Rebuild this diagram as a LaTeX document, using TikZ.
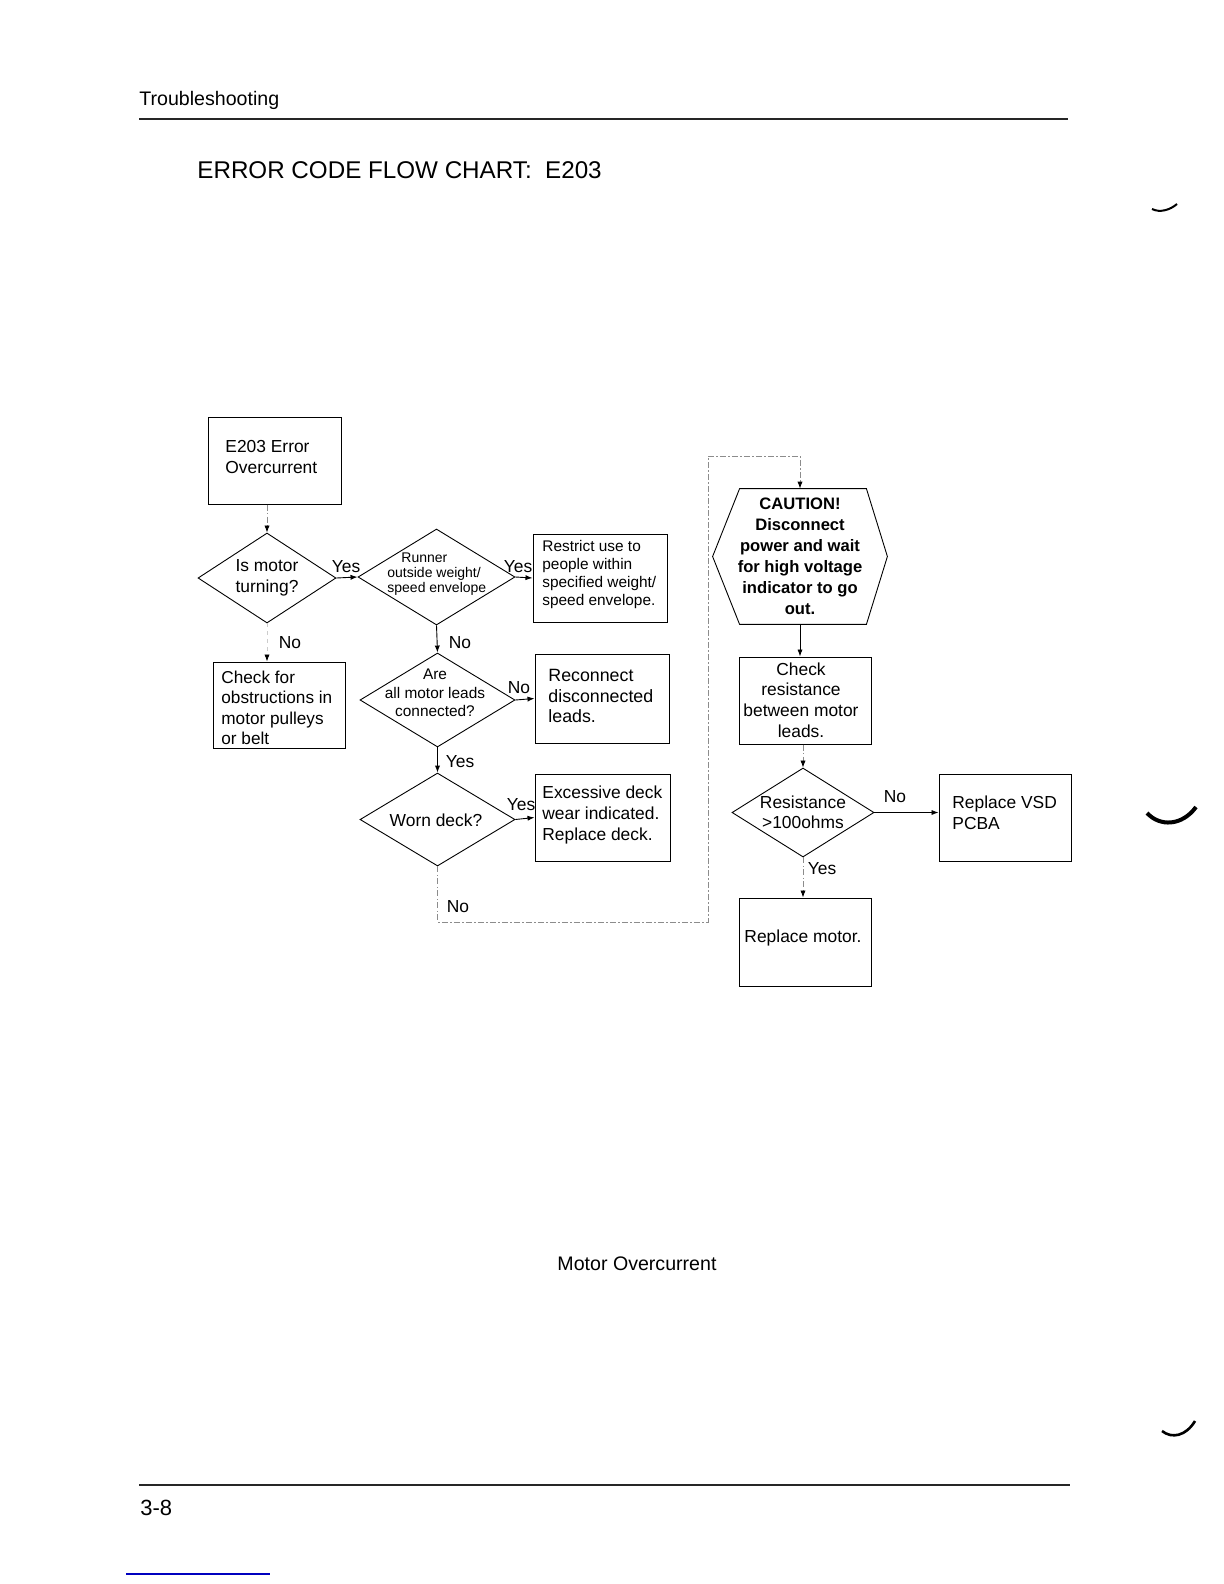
\documentclass[tikz,border=0pt]{standalone}
\usepackage{fontspec}
\setmainfont{Liberation Sans}
\usetikzlibrary{arrows.meta,shapes.geometric,calc}
\begin{document}
\begin{tikzpicture}[x=0.5pt,y=-0.5pt,
  box/.style={draw, line width=0.5pt, inner sep=0pt},
  dia/.style={diamond, draw, line width=0.45pt, inner sep=0pt},
  txt/.style={font=\fontsize{8.7}{10.3}\selectfont, inner sep=0pt, align=left},
  lbl/.style={font=\fontsize{8.7}{10}\selectfont, inner sep=0pt},
  arr/.style={-{Latex[length=3.5pt,width=2.6pt]}, line width=0.45pt},
  faint/.style={-{Latex[length=3.5pt,width=2.6pt,color=black]}, line width=0.4pt, draw=black!45, dash pattern=on 3pt off 1.2pt on 0.6pt off 1.2pt},
  ghost/.style={-{Latex[length=3.5pt,width=2.6pt,color=black]}, line width=0.4pt, draw=black!20, dash pattern=on 2pt off 2pt}]
\useasboundingbox[fill=white] (0,0) rectangle (1224,1584);

% header / footer
\node[anchor=west, inner sep=0pt, font=\fontsize{9.8}{12}\selectfont] (hdr) at (139,100) {Troubleshooting};
\draw[line width=0.6pt, black!85] (139,119) -- (1068,119);
\node[anchor=west, inner sep=0pt, font=\fontsize{12.1}{14}\selectfont] (title) at (197,170) {ERROR CODE FLOW CHART:\ \ E203};
\node[inner sep=0pt, font=\fontsize{9.8}{12}\selectfont] (cap) at (637,1264) {Motor Overcurrent};
\draw[line width=0.6pt, black!85] (139,1485) -- (1070,1485);
\node[anchor=west, inner sep=0pt, font=\fontsize{11}{13}\selectfont] (pg) at (140,1508) {3-8};
\draw[blue!75!black, line width=1pt] (126,1574) -- (270,1574);

% margin marks
\draw[line width=1pt] (1152,209) .. controls (1160,213) and (1170,210) .. (1177,204);
\draw[line width=2pt] (1147,813) .. controls (1160,827) and (1182,826) .. (1196,807);
\draw[line width=1.3pt] (1162,1431) .. controls (1172,1439) and (1186,1436) .. (1195,1421);

% left column
\node[box, minimum width=66.5pt, minimum height=43.5pt] (e203) at (274.5,460.5) {};
\node[txt, anchor=west] (e203t) at (225,457) {E203 Error\\Overcurrent};

\node[dia, minimum width=69pt, minimum height=45pt] (d1) at (267,578) {};
\node[txt, align=center] (d1t) at (267,578) {Is motor\\turning?};

\node[dia, minimum width=78.5pt, minimum height=48pt] (d2) at (436.5,577) {};
\node[txt, anchor=west, font=\fontsize{7}{7.5}\selectfont] (d2t) at (387,574) {\hspace*{7pt}Runner\\outside weight/\\speed envelope};

\node[box, minimum width=67pt, minimum height=44pt] (rst) at (600,578) {};
\node[txt, anchor=west, font=\fontsize{7.7}{9}\selectfont] (rstt) at (542,575) {Restrict use to\\people within\\specified weight/\\speed envelope.};

\node[box, minimum width=66pt, minimum height=43pt] (chk) at (279,705) {};
\node[txt, anchor=west, font=\fontsize{8.6}{10.25}\selectfont] (chkt) at (221,708) {Check for\\obstructions in\\motor pulleys\\or belt};

\node[dia, minimum width=77.5pt, minimum height=47pt] (d3) at (437.5,700) {};
\node[txt, align=center, font=\fontsize{7.7}{9.2}\selectfont] (d3t) at (435,693) {Are\\all motor leads\\connected?};

\node[box, minimum width=67pt, minimum height=44.5pt] (rec) at (602,698.5) {};
\node[txt, anchor=west, font=\fontsize{8.9}{10.3}\selectfont] (rect) at (548,696) {Reconnect\\disconnected\\leads.};

\node[dia, minimum width=77.5pt, minimum height=46.5pt] (d4) at (437.5,819.5) {};
\node[txt] (d4t) at (436,820) {Worn deck?};

\node[box, minimum width=67.5pt, minimum height=43.5pt] (exc) at (602.5,817.5) {};
\node[txt, anchor=west] (exct) at (542,815) {Excessive deck\\wear indicated.\\Replace deck.};

% right column
\node[inner sep=0pt, minimum width=87pt, minimum height=67.5pt, align=center, font=\bfseries\fontsize{8.3}{10.5}\selectfont] (hex) at (800,556.5) {CAUTION!\\Disconnect\\power and wait\\for high voltage\\indicator to go\\out.};
\draw[line width=0.45pt] ($(hex.north west)+(27,0)$) -- ($(hex.north east)+(-21,0)$) -- (hex.east) -- ($(hex.south east)+(-21,0)$) -- ($(hex.south west)+(27,0)$) -- (hex.west) -- cycle;

\node[box, minimum width=66pt, minimum height=43.5pt] (chk2) at (805,700.5) {};
\node[txt, align=center] (chk2t) at (801,700) {Check\\resistance\\between motor\\leads.};

\node[dia, minimum width=71pt, minimum height=44.5pt] (d5) at (803,812.5) {};
\node[txt, align=center, font=\fontsize{8.7}{10}\selectfont] (d5t) at (803,812) {Resistance\\>100ohms};

\node[box, minimum width=66pt, minimum height=43.5pt] (vsd) at (1005,817.5) {};
\node[txt, anchor=west] (vsdt) at (952,813) {Replace VSD\\PCBA};

\node[box, minimum width=66pt, minimum height=44pt] (mot) at (805,942) {};
\node[txt] (mott) at (803,938) {Replace motor.};

% connectors
\draw[faint] (e203.south -| d1.north) -- (d1.north);
\draw[arr] (d1.east) -- (d2.west);
\draw[arr] (d2.east) -- (rst.west);
\draw[ghost] (d1.south) -- (d1.south |- chk.north);
\draw[arr] (d2.south) -- (d3.north);
\draw[arr] (d3.east) -- (rec.west);
\draw[arr] (d3.south) -- (d4.north);
\draw[arr] (d4.east) -- (exc.west);
\coordinate (lpA) at (437.5,922);
\coordinate (lpB) at (708,922);
\coordinate (lpC) at (708,456);
\draw[faint] (d4.south) -- (lpA) -- (lpB) -- (lpC) -- (lpC -| hex.north) -- (hex.north);
\draw[arr] (hex.south) -- (hex.south |- chk2.north);
\draw[faint] (d5.north |- chk2.south) -- (d5.north);
\draw[arr] (d5.east) -- (d5.east -| vsd.west);
\draw[faint] (d5.south) -- (d5.south |- mot.north);

% labels
\node[lbl] (l1) at (346,567) {Yes};
\node[lbl] (l2) at (518,567) {Yes};
\node[lbl] (l3) at (290,643) {No};
\node[lbl] (l4) at (460,643) {No};
\node[lbl] (l5) at (519,688) {No};
\node[lbl] (l6) at (460,762) {Yes};
\node[lbl] (l7) at (521,805) {Yes};
\node[lbl] (l8) at (458,907) {No};
\node[lbl] (l9) at (895,797) {No};
\node[lbl] (l10) at (822,869) {Yes};
\end{tikzpicture}
\end{document}
